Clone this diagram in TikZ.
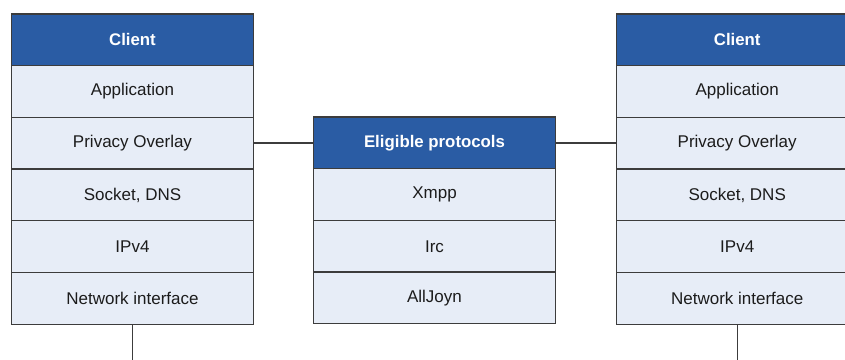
\documentclass[tikz,border=0pt]{standalone}
\usepackage{fontspec}
\setmainfont{Liberation Sans}
\definecolor{headblue}{HTML}{2A5CA4}
\definecolor{layerfill}{HTML}{E7EDF7}
\definecolor{edge}{HTML}{3C3C3C}
\definecolor{ink}{HTML}{1C1C1C}
\tikzset{
  layer/.style={draw=edge, line width=1.3pt, fill=layerfill, text=ink,
    minimum width=241.6pt, minimum height=51.7pt, inner sep=0pt, outer sep=0pt,
    font=\fontsize{17}{19}\selectfont},
  head/.style={layer, fill=headblue, text=white, font=\fontsize{16.8}{19}\selectfont\bfseries},
  wire/.style={draw=edge, line width=1.3pt}
}
\begin{document}
\begin{tikzpicture}[x=1pt,y=-1pt]
\useasboundingbox (0,0) rectangle (845,359);
\clip (0,0) rectangle (845,359);
\fill[white] (0,0) rectangle (845,359);

% left client stack
\node[head]  (L0) at (132.5, 39.85) {Client};
\node[layer] (L1) at (132.5, 91.55) {Application};
\node[layer] (L2) at (132.5,143.25) {Privacy Overlay};
\node[layer] (L3) at (132.5,194.95) {Socket, DNS};
\node[layer] (L4) at (132.5,246.65) {IPv4};
\node[layer] (L5) at (132.5,298.35) {Network interface};

% protocol stack in the middle
\node[head]  (M0) at (434.5,142.85) {Eligible protocols};
\node[layer] (M1) at (434.5,194.55) {Xmpp};
\node[layer] (M2) at (434.5,246.25) {Irc};
\node[layer] (M3) at (434.5,297.95) {AllJoyn};

% right client stack
\node[head]  (R0) at (737.2, 39.85) {Client};
\node[layer] (R1) at (737.2, 91.55) {Application};
\node[layer] (R2) at (737.2,143.25) {Privacy Overlay};
\node[layer] (R3) at (737.2,194.95) {Socket, DNS};
\node[layer] (R4) at (737.2,246.65) {IPv4};
\node[layer] (R5) at (737.2,298.35) {Network interface};

% links
\draw[wire] (M0.west -| L2.east) -- (M0.west);
\draw[wire] (M0.east) -- (M0.east -| R2.west);
\coordinate (Ldown) at (132.5,362);
\coordinate (Rdown) at (737.2,362);
\draw[wire] (L5.south) -- (Ldown);
\draw[wire] (R5.south) -- (Rdown);
\end{tikzpicture}
\end{document}
